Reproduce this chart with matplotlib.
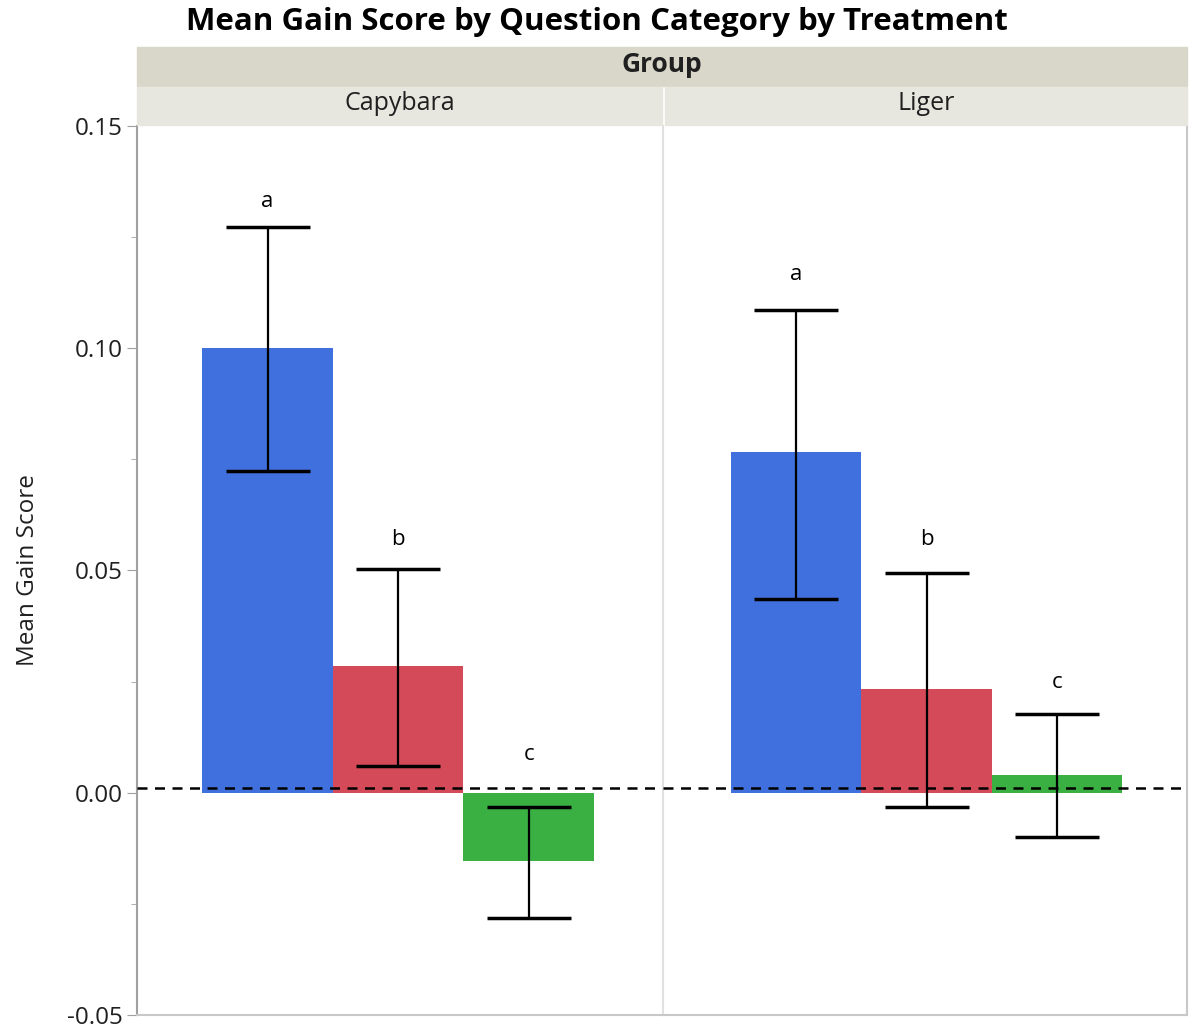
import numpy as np
import matplotlib.pyplot as plt
from matplotlib.ticker import MultipleLocator

plt.rcParams['font.family'] = ['Open Sans', 'DejaVu Sans']

# data
groups = ['Capybara', 'Liger']
categories = ['Cat 1', 'Cat 2', 'Cat 3']
means = {'Capybara': [0.100, 0.0286, -0.0153],
         'Liger': [0.0766, 0.0234, 0.0041]}
err_hi = {'Capybara': [0.1273, 0.0504, -0.0032],
          'Liger': [0.1086, 0.0495, 0.0178]}
err_lo = {'Capybara': [0.0723, 0.0061, -0.0282],
          'Liger': [0.0437, -0.0032, -0.0099]}
letters = ['a', 'b', 'c']
letter_y = {'Capybara': [0.133, 0.057, 0.0085],
            'Liger': [0.1165, 0.057, 0.0247]}
ref_line = 0.0011
colors = ['#4070DD', '#D44A58', '#3AB043']

W, H = 1189, 1033
fig = plt.figure(figsize=(W / 100, H / 100), dpi=100)

def fx(px):
    return px / W

def fy(py):
    return 1 - py / H

left, mid, right = 137, 663, 1187
top, bottom = 126, 1015
xlims = [(0, 4.03), (-0.02, 3.995)]

axes = []
for i, g in enumerate(groups):
    x0 = left if i == 0 else mid
    x1 = mid if i == 0 else right
    ax = fig.add_axes([fx(x0), fy(bottom), fx(x1 - x0), fy(top) - fy(bottom)])
    axes.append(ax)
    xs = np.arange(1, 4)
    m = np.array(means[g])
    ax.bar(xs, m, width=1.0, color=colors, zorder=2)
    hi = np.array(err_hi[g])
    lo = np.array(err_lo[g])
    mid_e = (hi + lo) / 2
    ax.errorbar(xs, mid_e, yerr=(hi - lo) / 2, fmt='none', ecolor='black',
                elinewidth=1.6, capsize=30, capthick=2.5, zorder=3)
    ax.axhline(ref_line, color='black', ls=(0, (4, 3)), lw=1.8, zorder=4)
    for x, t, y in zip(xs, letters, letter_y[g]):
        ax.text(x, y, t, ha='center', va='center', fontsize=16)
    ax.set_xlim(*xlims[i])
    ax.set_ylim(-0.05, 0.15)
    ax.set_xticks([])
    for s in ax.spines.values():
        s.set_color('#C8C8C8')
        s.set_linewidth(1.5)
    ax.spines['top'].set_visible(False)
    if i == 0:
        ax.spines['right'].set_visible(False)
        ax.spines['left'].set_color('#A0A0A0')
        ax.yaxis.set_major_locator(MultipleLocator(0.05))
        ax.yaxis.set_minor_locator(MultipleLocator(0.025))
        ax.set_yticklabels([f'{v:.2f}' for v in ax.get_yticks()])
        ax.tick_params(axis='y', which='major', length=7, color='#A0A0A0',
                       labelsize=17.5, labelcolor='#202020', pad=3)
        ax.tick_params(axis='y', which='minor', length=4, color='#A0A0A0')
        ax.set_ylabel('Mean Gain Score', fontsize=17.5, color='#202020', labelpad=20)
    else:
        ax.set_yticks([])
        ax.spines['left'].set_color('#E0E0E0')

# strip headers
fig.patches.append(plt.Rectangle((fx(left), fy(86)), fx(right - left), fy(47) - fy(86),
                                 transform=fig.transFigure, color='#D9D7C9'))
fig.text(fx((left + right) / 2), fy(64), 'Group', ha='center', va='center',
         fontsize=19, fontweight='bold', color='#202020')
for i, g in enumerate(groups):
    x0 = left if i == 0 else mid + 2
    x1 = mid - 1 if i == 0 else right
    fig.patches.append(plt.Rectangle((fx(x0), fy(125)), fx(x1 - x0), fy(87) - fy(125),
                                     transform=fig.transFigure, color='#E8E7DF'))
    fig.text(fx((x0 + x1) / 2), fy(104), g, ha='center', va='center',
             fontsize=18, color='#202020')

fig.text(fx(597), fy(22), 'Mean Gain Score by Question Category by Treatment',
         ha='center', va='center', fontsize=22.5, fontweight='bold')

fig.savefig('out.png', dpi=100)
